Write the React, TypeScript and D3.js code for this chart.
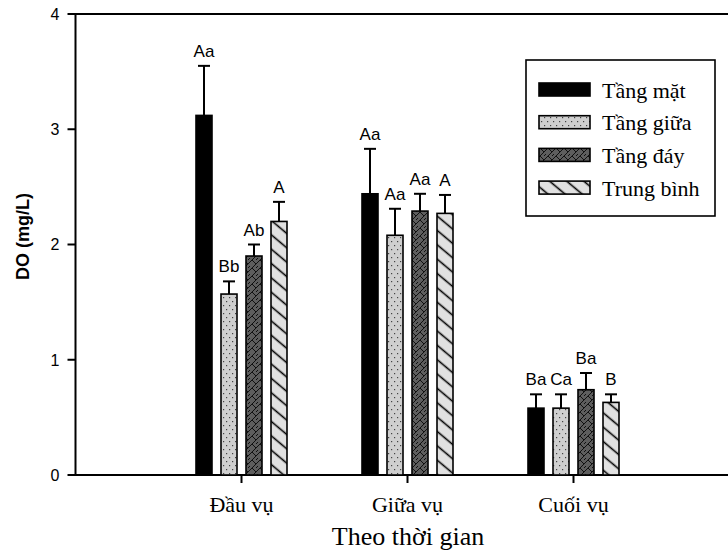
import React, { useRef, useEffect } from "react";
import * as d3 from "d3";

// DO theo thời gian, 4 tầng nước
const periods = ["Đầu vụ", "Giữa vụ", "Cuối vụ"];
const layers = ["Tầng mặt", "Tầng giữa", "Tầng đáy", "Trung bình"];

const surface = [3.12, 2.44, 0.58];
const middle = [1.57, 2.08, 0.58];
const bottom = [1.9, 2.29, 0.74];
const average = [2.2, 2.27, 0.63];

const surfaceErr = [0.43, 0.39, 0.12];
const middleErr = [0.11, 0.23, 0.12];
const bottomErr = [0.1, 0.15, 0.145];
const averageErr = [0.17, 0.16, 0.07];

const surfaceLetters = ["Aa", "Aa", "Ba"];
const middleLetters = ["Bb", "Aa", "Ca"];
const bottomLetters = ["Ab", "Aa", "Ba"];
const averageLetters = ["A", "A", "B"];

const yTicks = [0, 1, 2, 3, 4];

const W = 728;
const H = 551;
const SANS = "'Liberation Sans', Arial, sans-serif";
const SERIF = "'Liberation Serif', 'Times New Roman', serif";

const App = () => {
    const ref = useRef<SVGSVGElement>(null);

    useEffect(() => {
        const svg = d3.select(ref.current);
        svg.selectAll("*").remove();

        const series = [
            { values: surface, errs: surfaceErr, letters: surfaceLetters, fill: "#000000" },
            { values: middle, errs: middleErr, letters: middleLetters, fill: "url(#dots)" },
            { values: bottom, errs: bottomErr, letters: bottomLetters, fill: "url(#hatch)" },
            { values: average, errs: averageErr, letters: averageLetters, fill: "url(#diag)" },
        ];

        // patterns
        const defs = svg.append("defs");

        const dots = defs.append("pattern")
            .attr("id", "dots")
            .attr("patternUnits", "userSpaceOnUse")
            .attr("width", 6)
            .attr("height", 8);
        dots.append("rect").attr("width", 6).attr("height", 8).attr("fill", "#cfcfcf");
        dots.append("rect").attr("x", 1).attr("y", 1).attr("width", 1.2).attr("height", 1.2).attr("fill", "#444");
        dots.append("rect").attr("x", 4).attr("y", 5).attr("width", 1.2).attr("height", 1.2).attr("fill", "#444");

        const hatch = defs.append("pattern")
            .attr("id", "hatch")
            .attr("patternUnits", "userSpaceOnUse")
            .attr("width", 8)
            .attr("height", 8);
        hatch.append("rect").attr("width", 8).attr("height", 8).attr("fill", "#5e5e5e");
        hatch.append("path")
            .attr("d", "M0,8 L4,4 L8,8 M4,4 L8,0 M0,4 L2,2")
            .attr("stroke", "#111")
            .attr("stroke-width", 1)
            .attr("fill", "none");

        const diag = defs.append("pattern")
            .attr("id", "diag")
            .attr("patternUnits", "userSpaceOnUse")
            .attr("width", 20)
            .attr("height", 11)
            .attr("patternTransform", "rotate(40)");
        diag.append("rect").attr("width", 20).attr("height", 11).attr("fill", "#e1e1e1");
        diag.append("line")
            .attr("x1", 0).attr("y1", 5.5).attr("x2", 20).attr("y2", 5.5)
            .attr("stroke", "#000")
            .attr("stroke-width", 1.6);

        // scales
        const x = d3.scaleLinear().domain([0, 4]).range([75.5, 739.5]);
        const y = d3.scaleLinear().domain([0, 4]).range([475, 14]);
        const inner = d3.scaleBand<number>()
            .domain(d3.range(layers.length))
            .range([-50, 50])
            .paddingInner(0.36)
            .paddingOuter(0.18);

        // frame
        svg.append("rect")
            .attr("x", x(0))
            .attr("y", y(4))
            .attr("width", x(4) - x(0))
            .attr("height", y(0) - y(4))
            .attr("fill", "none")
            .attr("stroke", "#000")
            .attr("stroke-width", 2);

        // y axis
        const yAxis = svg.append("g");
        yTicks.forEach((t) => {
            yAxis.append("line")
                .attr("x1", x(0) - 8).attr("x2", x(0))
                .attr("y1", y(t)).attr("y2", y(t))
                .attr("stroke", "#000").attr("stroke-width", 2);
            yAxis.append("text")
                .attr("x", x(0) - 16)
                .attr("y", y(t))
                .attr("dy", "0.36em")
                .attr("text-anchor", "end")
                .attr("font-family", SANS)
                .attr("font-size", 16)
                .text(t);
        });
        svg.append("text")
            .attr("transform", `translate(29,${(y(0) + y(4)) / 2 - 8}) rotate(-90)`)
            .attr("text-anchor", "middle")
            .attr("font-family", SANS)
            .attr("font-weight", "bold")
            .attr("font-size", 18)
            .text("DO (mg/L)");

        // x axis
        periods.forEach((p, i) => {
            svg.append("line")
                .attr("x1", x(i + 1)).attr("x2", x(i + 1))
                .attr("y1", y(0)).attr("y2", y(0) + 8)
                .attr("stroke", "#000").attr("stroke-width", 2);
            svg.append("text")
                .attr("x", x(i + 1))
                .attr("y", 512)
                .attr("text-anchor", "middle")
                .attr("font-family", SERIF)
                .attr("font-size", 22)
                .text(p);
        });
        svg.append("text")
            .attr("x", 408)
            .attr("y", 545)
            .attr("text-anchor", "middle")
            .attr("font-family", SERIF)
            .attr("font-size", 26)
            .text("Theo thời gian");

        // bars, error bars, letters
        series.forEach((s, k) => {
            const g = svg.append("g");
            s.values.forEach((v, i) => {
                const bx = x(i + 1) + (inner(k) as number);
                const bw = inner.bandwidth();
                const cx = bx + bw / 2;
                const top = y(v + s.errs[i]);

                g.append("line")
                    .attr("x1", cx).attr("x2", cx)
                    .attr("y1", y(v)).attr("y2", top)
                    .attr("stroke", "#000").attr("stroke-width", 2);
                g.append("line")
                    .attr("x1", cx - 6).attr("x2", cx + 6)
                    .attr("y1", top).attr("y2", top)
                    .attr("stroke", "#000").attr("stroke-width", 2);

                g.append("rect")
                    .attr("x", bx)
                    .attr("y", y(v))
                    .attr("width", bw)
                    .attr("height", y(0) - y(v))
                    .attr("fill", s.fill)
                    .attr("stroke", "#000")
                    .attr("stroke-width", 1.6);

                g.append("text")
                    .attr("x", cx)
                    .attr("y", top - 9)
                    .attr("text-anchor", "middle")
                    .attr("font-family", SANS)
                    .attr("font-size", 17)
                    .text(s.letters[i]);
            });
        });

        // legend
        const legend = svg.append("g");
        legend.append("rect")
            .attr("x", 526).attr("y", 60)
            .attr("width", 189).attr("height", 156)
            .attr("fill", "#fff")
            .attr("stroke", "#000")
            .attr("stroke-width", 1.6);
        layers.forEach((name, k) => {
            const cy = 89.5 + k * 32.7;
            legend.append("rect")
                .attr("x", 539).attr("y", cy - 6.5)
                .attr("width", 51).attr("height", 13)
                .attr("fill", series[k].fill)
                .attr("stroke", "#000")
                .attr("stroke-width", 1.6);
            legend.append("text")
                .attr("x", 602)
                .attr("y", cy + 8)
                .attr("font-family", SERIF)
                .attr("font-size", 22)
                .text(name);
        });
    }, []);

    return (
        <svg
            ref={ref}
            width={W}
            height={H}
            style={{ position: "absolute", left: 0, top: 0, background: "#fff" }}
        />
    );
};

export default App;
